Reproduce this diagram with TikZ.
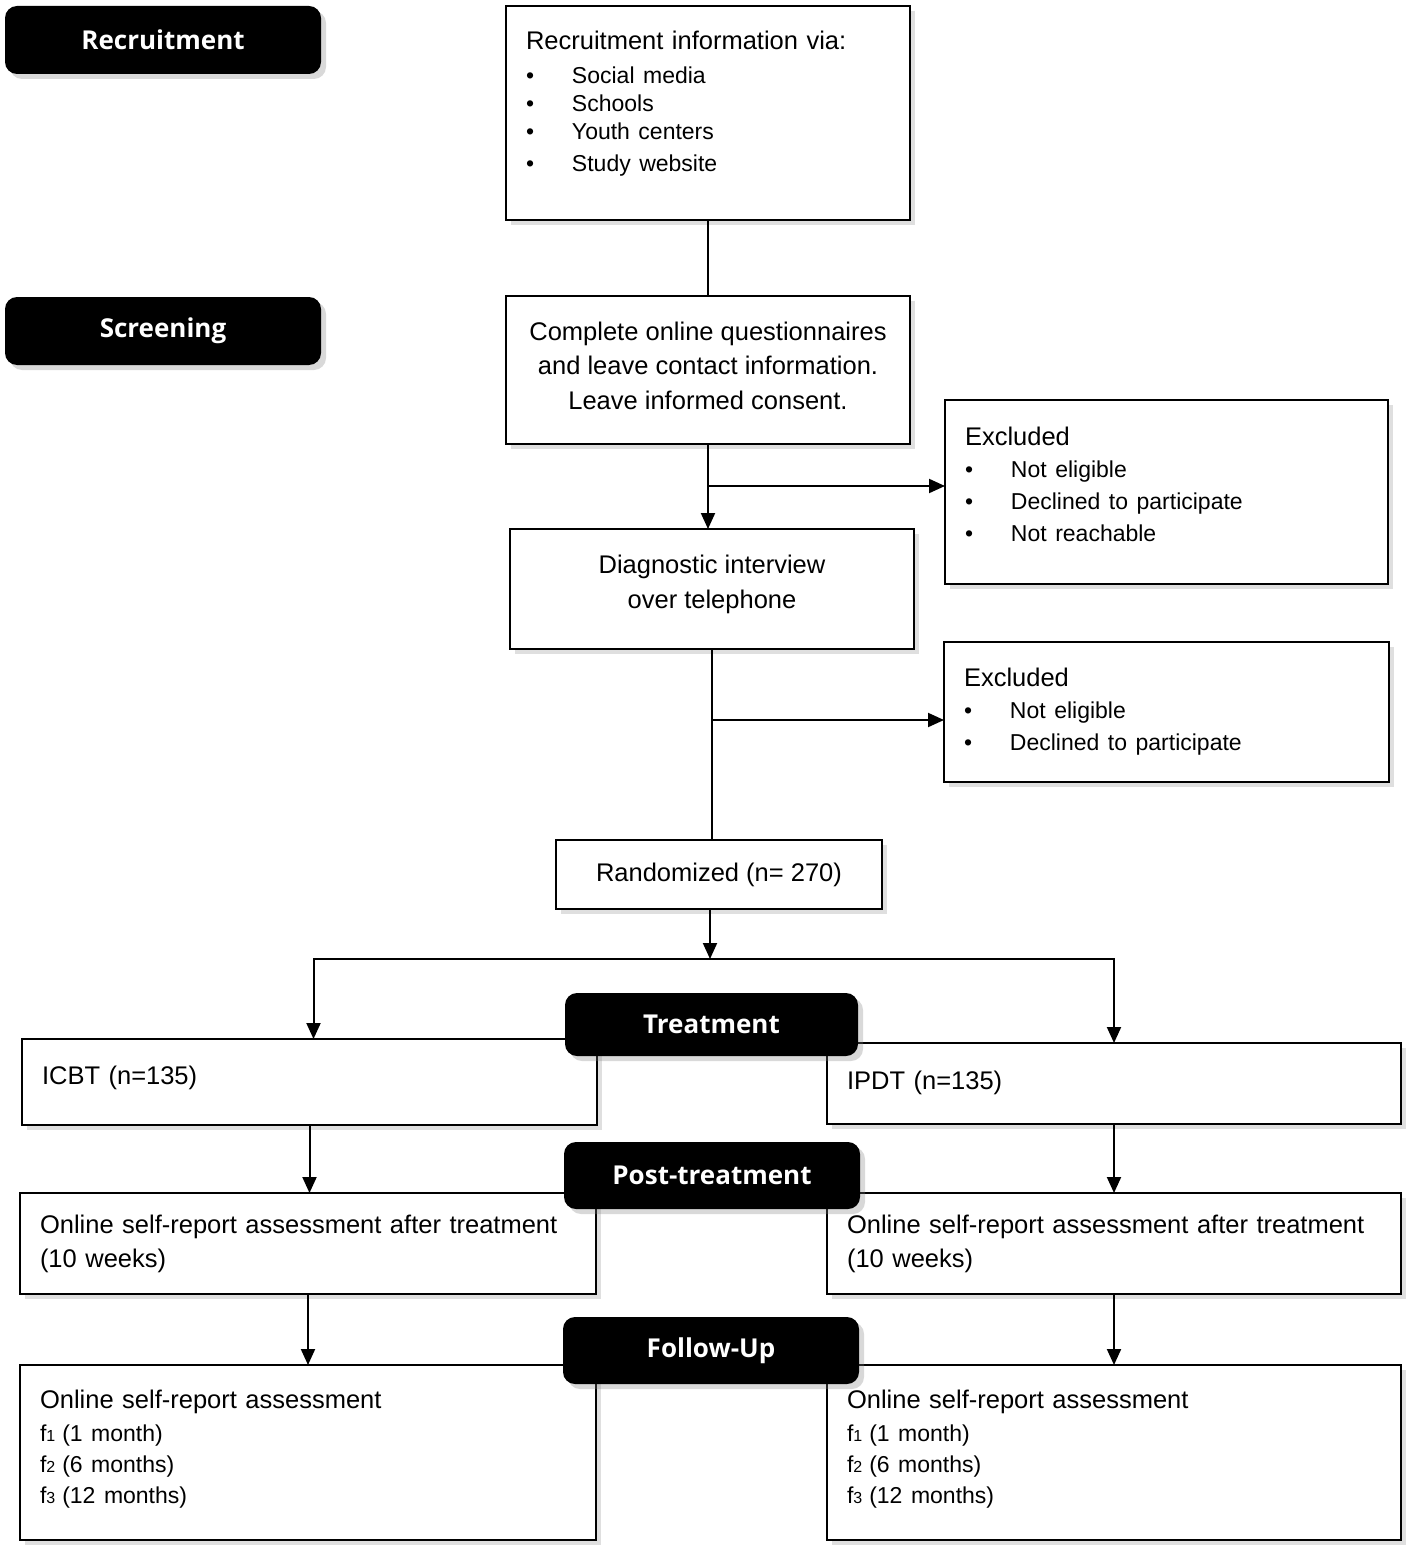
\documentclass[tikz,border=0pt]{standalone}
\usepackage{fontspec}
\setmainfont{Liberation Sans}
\newfontfamily\hdrfont{Open Sans}
\usetikzlibrary{positioning,arrows.meta,calc,shadows}

\newcommand{\bitem}[1]{{\fontsize{11.5}{14}\selectfont\makebox[23pt][l]{\textbullet}#1}}
\newcommand{\fitem}[2]{{\fontsize{11.5}{14}\selectfont f{\fontsize{8}{9}\selectfont #1}\hspace{3.5pt}#2}}

\begin{document}
\begin{tikzpicture}[
            x=0.5pt, y=-0.5pt,
            outer sep=0pt,
            stage/.style={
                fill=black, rounded corners=6pt, minimum width=148pt, minimum height=33.5pt, text=white, font=\hdrfont\bfseries\fontsize{13}{15}\selectfont,
                drop shadow={shadow xshift=2.5pt, shadow yshift=-2.5pt, opacity=0.3}
            },
            infobox/.style={
                draw=black, line width=1pt, fill=white, inner xsep=10pt, inner ysep=4pt, text=black, font=\fontsize{12.75}{16}\selectfont,
                drop shadow={shadow xshift=2.5pt, shadow yshift=-2.5pt, opacity=0.25}
            },
            lbox/.style={infobox, align=left, text width=#1},
            cbox/.style={infobox, align=center},
            arr/.style={-{Triangle[width=7pt,length=8pt]}, line width=1pt},
            link/.style={line width=1pt}
        ]
            \useasboundingbox (0,0) rectangle (1418,1557);

            % RECRUITMENT / SCREENING
            \node[lbox=182pt, minimum height=107pt, font=\fontsize{12.75}{14}\selectfont] (info) at (708,113) {Recruitment information via:\\[3pt]
                \bitem{Social media}\\ \bitem{Schools}\\ \bitem{Youth centers}\\[2pt] \bitem{Study website}\\[-2pt]\mbox{}};
            \node[cbox, minimum width=202pt, minimum height=74pt, font=\fontsize{12.75}{17.25}\selectfont] (compl) at (708,370) {Complete online questionnaires\\ and leave contact information.\\ Leave informed consent.\\[-13pt]\mbox{}};
            \node[cbox, minimum width=202pt, minimum height=60pt, font=\fontsize{12.75}{17.5}\selectfont] (diag) at (712,589) {Diagnostic interview\\ over telephone\\[-10pt]\mbox{}};
            \node[lbox=201.5pt, minimum height=92pt, font=\fontsize{12.75}{16}\selectfont] (excl1) at (1166.5,492) {Excluded\\ \bitem{Not eligible}\\ \bitem{Declined to participate}\\ \bitem{Not reachable}\\[-8pt]\mbox{}};
            \node[lbox=202.5pt, minimum height=70pt, font=\fontsize{12.75}{16}\selectfont] (excl2) at (1166.5,712) {Excluded\\ \bitem{Not eligible}\\ \bitem{Declined to participate}};
            \node[cbox, minimum width=163pt, minimum height=34.5pt] (rand) at (719,874.5) {Randomized (n= 270)};
            \coordinate (split) at (710,959);

            % TWO ARMS
            \node[lbox=267.5pt, minimum height=43pt] (icbt) at (309.5,1082) {ICBT (n=135)\\[-9pt]\mbox{}};
            \node[lbox=267pt, minimum height=40.5pt] (ipdt) at (1114,1083.5) {IPDT (n=135)\\[-13pt]\mbox{}};
            \node[lbox=268pt, minimum height=50.5pt, font=\fontsize{12.75}{17}\selectfont] (postL) at (308,1243.5) {Online self-report assessment after treatment\\ (10 weeks)};
            \node[lbox=267pt, minimum height=50.5pt, font=\fontsize{12.75}{17}\selectfont] (postR) at (1114,1243.5) {Online self-report assessment after treatment\\ (10 weeks)};
            \node[lbox=268pt, minimum height=87.5pt, font=\fontsize{12.75}{15.5}\selectfont] (fuL) at (308,1452.5) {Online self-report assessment\\[1pt] \fitem{1}{(1 month)}\\ \fitem{2}{(6 months)}\\ \fitem{3}{(12 months)}\\[-10pt]\mbox{}};
            \node[lbox=267pt, minimum height=87.5pt, font=\fontsize{12.75}{15.5}\selectfont] (fuR) at (1114,1452.5) {Online self-report assessment\\[1pt] \fitem{1}{(1 month)}\\ \fitem{2}{(6 months)}\\ \fitem{3}{(12 months)}\\[-10pt]\mbox{}};

            % CONNECTORS
            \draw[link] (info.south) -- (info.south |- compl.north);
            \draw[arr] (compl.south) -- (compl.south |- diag.north);
            \draw[arr] ([yshift=3pt]compl.south |- excl1.west) -- ([yshift=3pt]excl1.west);
            \draw[link] (diag.south) -- (diag.south |- rand.north);
            \draw[arr] ([yshift=-4pt]diag.south |- excl2.west) -- ([yshift=-4pt]excl2.west);
            \draw[arr] (rand.south -| split) -- (split);
            \draw[arr] (split) -| ([xshift=2pt]icbt.north);
            \draw[arr] (split) -| (ipdt.north);
            \draw[arr] (icbt.south) -- (icbt.south |- postL.north);
            \draw[arr] (ipdt.south) -- (ipdt.south |- postR.north);
            \draw[arr] (postL.south) -- (postL.south |- fuL.north);
            \draw[arr] (postR.south) -- (postR.south |- fuR.north);

            % STAGE LABELS
            \node[stage, minimum width=158pt, minimum height=34pt] (recruit) at (163,40) {Recruitment};
            \node[stage, minimum width=158pt, minimum height=34pt] (screen) at (163,331) {Screening};
            \node[stage, minimum width=146.5pt, minimum height=31.5pt] (treat) at (711.5,1024.5) {Treatment};
            \node[stage] (post) at (712,1175.5) {Post-treatment};
            \node[stage] (follow) at (711,1350.5) {Follow-Up};

        \end{tikzpicture}
\end{document}
